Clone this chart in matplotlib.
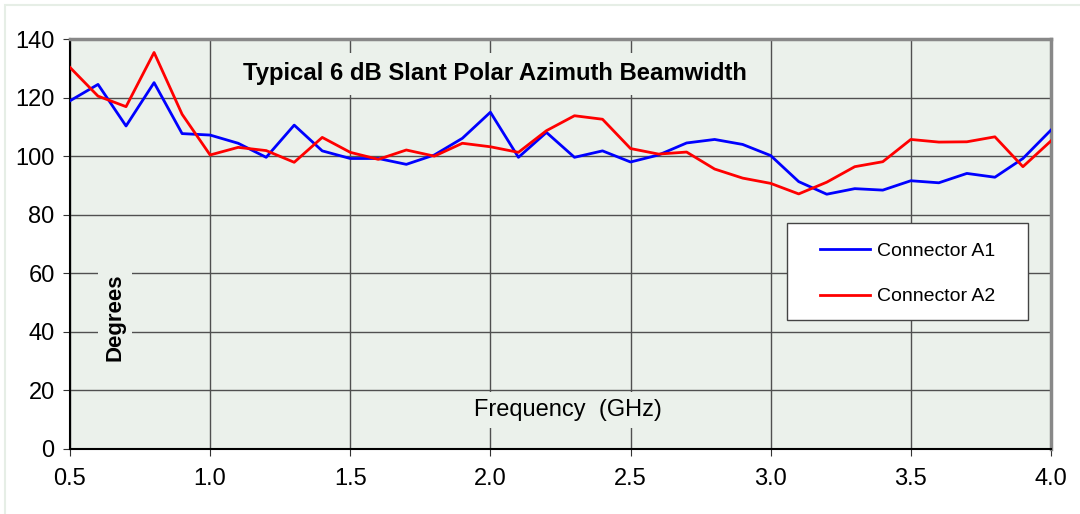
import numpy as np
import matplotlib
matplotlib.use("Agg")
import matplotlib.pyplot as plt
from matplotlib.patches import Rectangle

plt.rcParams['font.family'] = ['Liberation Sans', 'DejaVu Sans']

freq = [0.5, 0.6, 0.7, 0.8, 0.9, 1.0, 1.1, 1.2, 1.3, 1.4, 1.5, 1.6, 1.7, 1.8, 1.9, 2.0, 2.1, 2.2,
        2.3, 2.4, 2.5, 2.6, 2.7, 2.8, 2.9, 3.0, 3.1, 3.2, 3.3, 3.4, 3.5, 3.6, 3.7, 3.8, 3.9, 4.0]
conn_a1 = [118.9, 124.5, 110.3, 125.1, 107.7, 107.2, 104.4, 99.6, 110.6, 101.8, 99.2, 99.2,
           97.2, 100.4, 106.1, 115.0, 99.6, 108.1, 99.6, 101.8, 98.0, 100.4, 104.5, 105.7,
           104.0, 100.2, 91.3, 87.0, 88.9, 88.4, 91.6, 90.9, 94.1, 92.8, 99.2, 108.9]
conn_a2 = [130.3, 120.5, 116.9, 135.4, 114.3, 100.4, 103.0, 101.9, 97.9, 106.4, 101.3, 98.9,
           102.1, 100.0, 104.4, 103.2, 101.3, 108.7, 113.8, 112.6, 102.6, 100.7, 101.4, 95.6,
           92.5, 90.7, 87.1, 91.1, 96.4, 98.1, 105.7, 104.8, 104.9, 106.6, 96.4, 105.2]
x_ticks = [0.5, 1.0, 1.5, 2.0, 2.5, 3.0, 3.5, 4.0]
y_ticks = [0, 20, 40, 60, 80, 100, 120, 140]

bg = '#EBF1EB'

fig = plt.figure(figsize=(10.8, 5.14), dpi=100)
fig.patches.append(Rectangle((0.005, -0.01), 1.0, 1.0, transform=fig.transFigure,
                             fill=False, edgecolor='#E6EEE6', linewidth=1.5))
ax = fig.add_axes([0.0648, 0.1265, 0.9083, 0.7976])
ax.set_facecolor(bg)

ax.plot(freq, conn_a1, color='#0000FF', linewidth=2.0, label='Connector A1', zorder=3)
ax.plot(freq, conn_a2, color='#FF0000', linewidth=2.0, label='Connector A2', zorder=3)

ax.set_xlim(0.5, 4.0)
ax.set_ylim(0, 140)
ax.set_xticks(x_ticks)
ax.set_xticklabels([f'{v:.1f}' for v in x_ticks])
ax.set_yticks(y_ticks)
ax.tick_params(axis='both', labelsize=17, length=5, direction='out', color='#333333')
ax.tick_params(axis='x', pad=9)
ax.tick_params(axis='y', pad=6)
ax.grid(True, color='#505050', linewidth=1.0, zorder=1)
ax.set_axisbelow(True)

ax.spines['left'].set_color('black')
ax.spines['left'].set_linewidth(1.5)
ax.spines['bottom'].set_color('black')
ax.spines['bottom'].set_linewidth(1.5)
ax.spines['top'].set_color('#888888')
ax.spines['top'].set_linewidth(2.5)
ax.spines['right'].set_color('#888888')
ax.spines['right'].set_linewidth(2.5)

ax.text(0.433, 0.915, 'Typical 6 dB Slant Polar Azimuth Beamwidth', transform=ax.transAxes,
        ha='center', va='center', fontsize=17.2, fontweight='bold', zorder=2,
        bbox=dict(facecolor=bg, edgecolor='none', pad=7))
ax.text(0.508, 0.095, 'Frequency  (GHz)', transform=ax.transAxes,
        ha='center', va='center', fontsize=17, zorder=2,
        bbox=dict(facecolor=bg, edgecolor='none', pad=5))
ax.text(0.046, 0.322, 'Degrees', transform=ax.transAxes, rotation=90,
        ha='center', va='center', fontsize=16, fontweight='bold', zorder=2,
        bbox=dict(facecolor=bg, edgecolor='none', pad=5))

# legend frame drawn by hand, entries placed inside it
ax.add_patch(Rectangle((0.731, 0.315), 0.246, 0.236, transform=ax.transAxes,
                       facecolor='white', edgecolor='#444444', linewidth=1.0, zorder=4))
leg = ax.legend(loc='upper left', bbox_to_anchor=(0.7645, 0.505), fontsize=14,
                frameon=False, labelspacing=1.45, handlelength=2.6, handletextpad=0.36,
                borderpad=0, borderaxespad=0)
leg.set_zorder(5)

fig.savefig('out.png', dpi=100, facecolor='white')
